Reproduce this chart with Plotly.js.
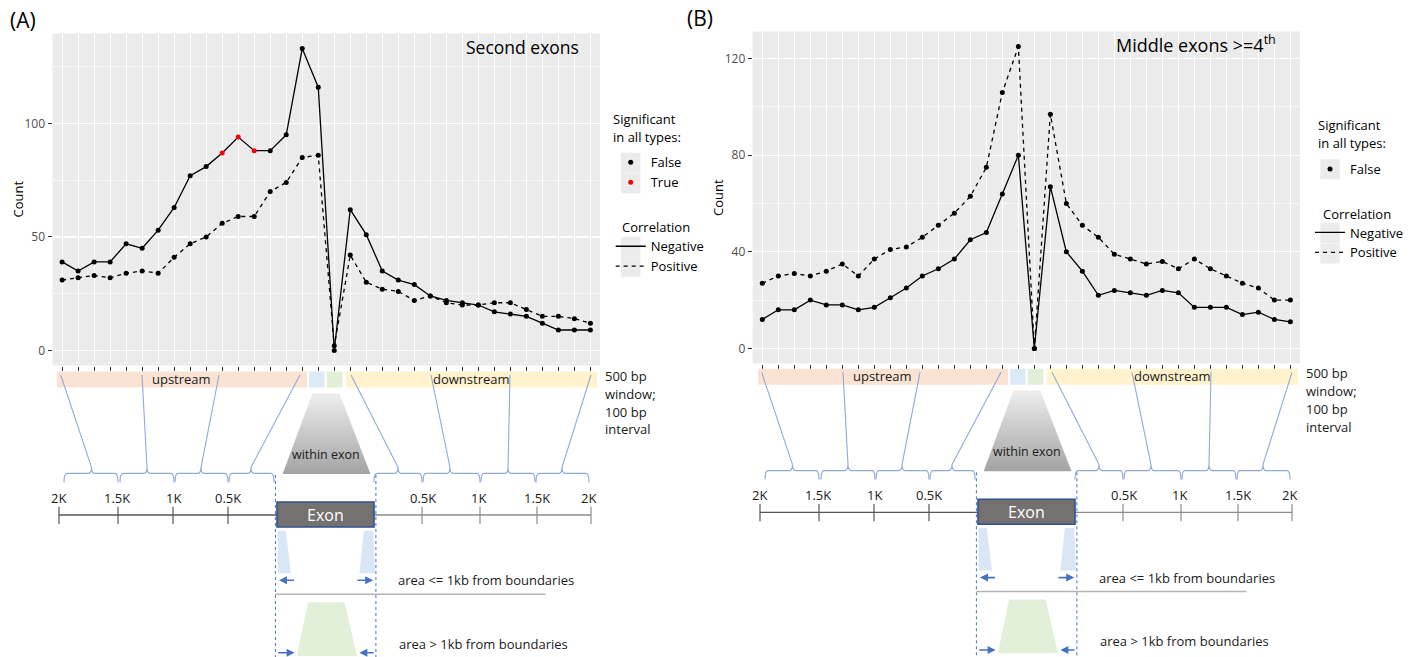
<!DOCTYPE html>
<html><head><meta charset="utf-8">
<script src="https://cdn.plot.ly/plotly-3.0.1.min.js"></script>
<style>html,body{margin:0;padding:0;background:#fff;}#chart{width:1411px;height:657px;}</style>
</head><body><div id="chart"></div>
<script>
// ---------------- DATA ----------------
const bins = ["up16","up15","up14","up13","up12","up11","up10","up9","up8","up7","up6","up5","up4","up3","up2","up1",
  "exonNear","exonFar",
  "down1","down2","down3","down4","down5","down6","down7","down8","down9","down10","down11","down12","down13","down14","down15","down16"];

// Panel A: Second exons
const A_negative = [39,35,39,39,47,45,53,63,77,81,87,94,88,88,95,133,116,0,62,51,35,31,29,24,22,21,20,17,16,15,12,9,9,9];
const A_negativeSig = [0,0,0,0,0,0,0,0,0,0,1,1,1,0,0,0,0,0,0,0,0,0,0,0,0,0,0,0,0,0,0,0,0,0];
const A_positive = [31,32,33,32,34,35,34,41,47,50,56,59,59,70,74,85,86,2,42,30,27,26,22,24,21,20,20,21,21,18,15,15,14,12];

// Panel B: Middle exons >=4th
const B_negative = [12,16,16,20,18,18,16,17,21,25,30,33,37,45,48,64,80,0,67,40,32,22,24,23,22,24,23,17,17,17,14,15,12,11];
const B_positive = [27,30,31,30,32,35,30,37,41,42,46,51,56,63,75,106,125,0,97,60,51,46,39,37,35,36,33,37,33,30,27,25,20,20];

const A_ticks = [0,50,100], A_minor = [25,75,125];
const B_ticks = [0,40,80,120], B_minor = [20,60,100];

// ---------------- HELPERS ----------------
const W = 1411, H = 657;
const px = x => x / W, py = y => 1 - y / H;
const DASH = '4px,4px';

const traces = [];
function series(x, y, xa, ya, dash, colors) {
  traces.push({
    x: x, y: y, xaxis: xa, yaxis: ya, type: 'scatter', mode: 'lines+markers',
    line: {color: '#000', width: 1.3, dash: dash},
    marker: {size: 5, color: colors || '#000'},
    showlegend: false, hoverinfo: 'x+y'
  });
}
series(bins, A_negative, 'x', 'y', 'solid', A_negativeSig.map(s => s ? '#FF0000' : '#000000'));
series(bins, A_positive, 'x', 'y', DASH);
series(bins, B_negative, 'x2', 'y2', 'solid');
series(bins, B_positive, 'x2', 'y2', DASH);

// legend entries
function legendItem(name, xa, ya, leg, mode, color, dash, rank) {
  traces.push({x: [null], y: [null], xaxis: xa, yaxis: ya, type: 'scatter', mode: mode, name: name,
    legend: leg, legendrank: rank, showlegend: true,
    marker: {size: 5, color: color}, line: {color: '#000', width: 1.3, dash: dash || 'solid'}});
}
legendItem('False', 'x', 'y', 'legend', 'markers', '#000', null, 1);
legendItem('True', 'x', 'y', 'legend', 'markers', '#FF0000', null, 2);
legendItem('Negative', 'x', 'y', 'legend3', 'lines', '#000', 'solid', 3);
legendItem('Positive', 'x', 'y', 'legend3', 'lines', '#000', DASH, 4);
legendItem('False', 'x2', 'y2', 'legend2', 'markers', '#000', null, 1);
legendItem('Negative', 'x2', 'y2', 'legend4', 'lines', '#000', 'solid', 3);
legendItem('Positive', 'x2', 'y2', 'legend4', 'lines', '#000', DASH, 4);

// ---------------- DIAGRAM (schematic, pixel space on x3/y3) ----------------
const shapes = [], annotations = [];
const BLUE_L = '#8EAADB', BLUE_D = '#4472C4';

function diagram(dx, dy) {
  const X = x => x + dx, Y = y => y + dy;
  const rect = (x0, y0, x1, y1, fill, line) => shapes.push({type: 'rect', xref: 'x3', yref: 'y3',
    x0: X(x0), x1: X(x1), y0: Y(y0), y1: Y(y1), fillcolor: fill, line: line || {width: 0}, layer: 'above'});
  const seg = (x0, y0, x1, y1, color, width, dash) => shapes.push({type: 'line', xref: 'x3', yref: 'y3',
    x0: X(x0), x1: X(x1), y0: Y(y0), y1: Y(y1), line: {color: color, width: width, dash: dash || 'solid'}, layer: 'above'});
  const poly = (pts, fill) => shapes.push({type: 'path', xref: 'x3', yref: 'y3',
    path: 'M' + pts.map(p => X(p[0]) + ',' + Y(p[1])).join(' L') + ' Z', fillcolor: fill, line: {width: 0}, layer: 'above'});
  const txt = (x, y, text, size, anchor, color) => annotations.push({xref: 'x3', yref: 'y3', x: X(x), y: Y(y),
    text: text, showarrow: false, xanchor: anchor || 'center', yanchor: 'middle',
    font: {size: size, color: color || '#1a1a1a'}});
  const arrow = (x0, y0, x1, y1) => annotations.push({xref: 'x3', yref: 'y3', axref: 'x3', ayref: 'y3',
    x: X(x1), y: Y(y1), ax: X(x0), ay: Y(y0), text: '', showarrow: true, arrowhead: 2, arrowsize: 1,
    arrowwidth: 1.6, arrowcolor: BLUE_D, standoff: 0, startstandoff: 0});
  const brace = (x1, xc, x2, y) => shapes.push({type: 'path', xref: 'x3', yref: 'y3', layer: 'above',
    path: `M${X(x1)},${Y(y + 9)} Q${X(x1)},${Y(y)} ${X(x1 + 3)},${Y(y)} L${X(xc - 3)},${Y(y)} Q${X(xc)},${Y(y)} ${X(xc)},${Y(y - 6)} Q${X(xc)},${Y(y)} ${X(xc + 3)},${Y(y)} L${X(x2 - 3)},${Y(y)} Q${X(x2)},${Y(y)} ${X(x2)},${Y(y + 9)}`,
    line: {color: BLUE_L, width: 1.2}});

  // region bars
  rect(57, 371.5, 307, 387.5, '#FBE3D4');
  rect(309, 371.5, 324.5, 387.5, '#DCE9F6');
  rect(326.8, 371.5, 342.4, 387.5, '#E1EFD8');
  rect(346, 371.5, 597, 387.5, '#FFF2CC');
  txt(181, 379, 'upstream', 13);
  txt(471, 379, 'downstream', 13);
  txt(603, 376, '500 bp', 13, 'left');
  txt(603, 394, 'window;', 13, 'left');
  txt(603, 411.7, '100 bp', 13, 'left');
  txt(603, 429.3, 'interval', 13, 'left');

  // connecting lines and braces
  const links = [[60.7, 91.5], [142, 147], [219, 201], [300, 251], [351, 398], [431, 450], [510, 508], [591, 562]];
  links.forEach(l => seg(l[0], 375, l[1], 467.3, BLUE_L, 1.1));
  const br = [[64, 91.5, 118], [120, 147, 174], [175, 201, 228], [229, 251, 274],
              [374, 398, 422], [423, 450, 480], [481, 508, 535], [536, 562, 589]];
  br.forEach(b => brace(b[0], b[1], b[2], 473.3));

  // exon boundary dashed lines
  seg(275.4, 475, 275.4, 660, BLUE_D, 1, '3px,3px');
  seg(375.9, 475, 375.9, 660, BLUE_D, 1, '3px,3px');

  // genomic coordinate axis
  seg(59, 515, 277, 515, '#555555', 1.3);
  seg(374, 515, 591, 515, '#8C8C8C', 1.3);
  const tk = [[59, 58, '2K'], [118, 117.4, '1.5K'], [173, 173, '1K'], [228, 227.7, '0.5K'],
              [422, 422.8, '0.5K'], [480, 478.6, '1K'], [537, 537, '1.5K'], [591, 588.4, '2K']];
  tk.forEach(t => { seg(t[0], 506.7, t[0], 524, t[0] < 300 ? '#555555' : '#8C8C8C', 1.2); txt(t[1], 497.5, t[2], 13); });

  // exon box
  rect(277, 502, 374, 527, '#767171', {color: '#2F528F', width: 1.6});
  txt(325.5, 514.5, 'Exon', 16, 'center', '#FFFFFF');
  txt(326, 454, 'within exon', 12.5);

  // near-boundary (light blue) regions
  poly([[277.7, 530.7], [285.7, 530.7], [291, 573.3], [277.7, 573.3]], '#D9E6F5');
  poly([[363.8, 530.7], [373.2, 530.7], [375, 573.3], [359.4, 573.3]], '#D9E6F5');
  arrow(295.5, 580.3, 279, 580.3);
  arrow(356, 580.3, 373.2, 580.3);
  txt(396, 580.3, 'area &lt;= 1kb from boundaries', 13, 'left');
  seg(275.4, 594.3, 545.5, 594.3, '#B4B4B4', 1.5);

  // deep (green) region
  poly([[308, 602.3], [344.6, 602.3], [357, 656], [296.9, 656]], '#E2F0D9');
  arrow(276.8, 652.7, 294.6, 652.7);
  arrow(375, 652.7, 359.4, 652.7);
  txt(397, 643.7, 'area &gt; 1kb from boundaries', 13, 'left');

  // "within exon" gradient trapezoid (scatter fill with gradient)
  traces.push({x: [X(312.5), X(339.3), X(370.5), X(282.6), X(312.5)], y: [Y(393.3), Y(393.3), Y(474), Y(474), Y(393.3)],
    xaxis: 'x3', yaxis: 'y3', type: 'scatter', mode: 'lines', fill: 'toself', line: {width: 0},
    fillcolor: '#C8C8C8',
    fillgradient: {type: 'vertical', colorscale: [[0, '#A3A3A3'], [1, '#EEEEEE']]},
    hoverinfo: 'skip', showlegend: false});
}
diagram(0, 0);
diagram(701, -2.7);

// panel backgrounds
[['x', 'y'], ['x2', 'y2']].forEach(p => shapes.push({type: 'rect', xref: p[0] + ' domain', yref: p[1] + ' domain',
  x0: 0, x1: 1, y0: 0, y1: 1, fillcolor: '#EBEBEB', line: {width: 0}, layer: 'below'}));

// legend key backgrounds (ggplot style)
function keyBg(cx, cy) {
  shapes.push({type: 'rect', xref: 'paper', yref: 'paper', x0: px(cx - 9.7), x1: px(cx + 9.7), y0: py(cy + 10), y1: py(cy - 10),
    fillcolor: '#EBEBEB', line: {width: 0}, layer: 'below'});
}
keyBg(630.7, 162.7); keyBg(630.7, 183.3); keyBg(630.7, 246.7); keyBg(630.7, 266.7);
keyBg(1330, 169.3); keyBg(1330, 233); keyBg(1330, 253.5);

// text annotations
const note = (x, y, text, size, xa, extra) => annotations.push(Object.assign({xref: 'paper', yref: 'paper', x: px(x), y: py(y),
  text: text, showarrow: false, xanchor: xa || 'center', yanchor: 'middle', font: {size: size, color: '#000'}}, extra || {}));
note(23, 20, '(A)', 21);
note(700, 18, '(B)', 21);
note(581, 47, 'Second exons', 17.5, 'right');
note(1278, 44, 'Middle exons &gt;=4<sup>th</sup>', 18, 'right');
note(18, 199.5, 'Count', 13, 'center', {textangle: -90});
note(717.5, 197.5, 'Count', 13, 'center', {textangle: -90});
// legend titles
note(611, 119, 'Significant', 13, 'left');
note(611, 137.3, 'in all types:', 13, 'left');
note(620, 226.7, 'Correlation', 13, 'left');
note(1316, 125, 'Significant', 13, 'left');
note(1316, 142.7, 'in all types:', 13, 'left');
note(1321, 214, 'Correlation', 13, 'left');

// ---------------- AXES ----------------
function xAx(domain, anchor) {
  return {domain: domain, anchor: anchor, type: 'category', range: [-0.6, 33.6], showgrid: true, gridcolor: '#FFFFFF', gridwidth: 1.2,
    ticks: 'outside', ticklen: 4, tickwidth: 1, tickcolor: '#333333', showticklabels: false, zeroline: false, showline: false, fixedrange: true};
}
function yAx(domain, anchor, range, tv, mv) {
  return {domain: domain, anchor: anchor, range: range, tickvals: tv, ticktext: tv.map(String), showgrid: true, gridcolor: '#FFFFFF', gridwidth: 1.2,
    ticks: 'outside', ticklen: 4, tickwidth: 1, tickcolor: '#333333', tickfont: {size: 12, color: '#4D4D4D'},
    zeroline: false, showline: false, fixedrange: true,
    minor: {tickvals: mv, showgrid: true, gridcolor: '#FFFFFF', gridwidth: 0.6, ticks: ''}};
}
const leg = (x, ytop) => ({x: px(x), y: py(ytop), xanchor: 'left', yanchor: 'top', bgcolor: 'rgba(0,0,0,0)', borderwidth: 0,
  font: {size: 13, color: '#000'}, traceorder: 'normal'});

const layout = {
  width: W, height: H, margin: {l: 0, r: 0, t: 0, b: 0},
  paper_bgcolor: '#FFFFFF', plot_bgcolor: 'rgba(0,0,0,0)',
  font: {family: '"Open Sans", "Noto Sans", sans-serif', color: '#000'},
  xaxis: xAx([px(52.5), px(600)], 'y'),
  yaxis: yAx([py(365.5), py(33.5)], 'x', [-6.65, 139.65], A_ticks, A_minor),
  xaxis2: xAx([px(752.7), px(1300)], 'y2'),
  yaxis2: yAx([py(363.5), py(31.5)], 'x2', [-6.25, 131.25], B_ticks, B_minor),
  xaxis3: {domain: [0, 1], anchor: 'y3', range: [0, W], visible: false, fixedrange: true},
  yaxis3: {domain: [0, 1], anchor: 'x3', range: [H, 0], visible: false, fixedrange: true},
  legend: leg(610.7, 147.3),
  legend3: leg(610.7, 231.3),
  legend2: leg(1310, 154),
  legend4: leg(1310, 217.5),
  shapes: shapes, annotations: annotations, showlegend: true
};

Plotly.newPlot('chart', traces, layout, {displayModeBar: false, staticPlot: true});
</script></body></html>
